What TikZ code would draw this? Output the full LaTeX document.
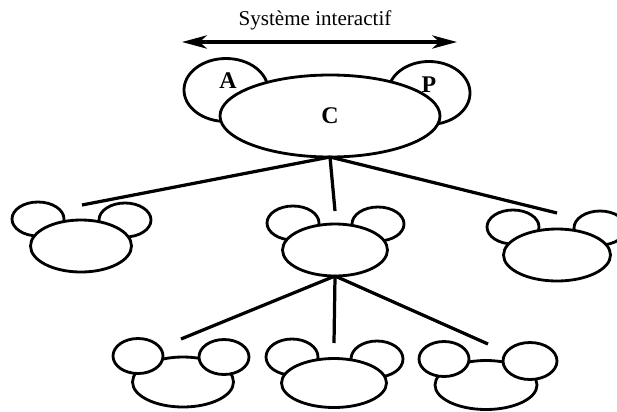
\documentclass[tikz,border=0pt]{standalone}
\usepackage{fontspec}
\setmainfont{Liberation Serif}
\usetikzlibrary{shapes.geometric, arrows.meta}

\begin{document}
\begin{tikzpicture}[
    head/.style={draw, ellipse, fill=white, line width=2pt, inner sep=0pt, outer sep=0pt,
                 minimum width=2.55cm, minimum height=1.3cm},
    ear/.style={draw, ellipse, fill=white, line width=2pt, inner sep=0pt, outer sep=0pt,
                minimum width=1.3cm, minimum height=0.85cm},
    letter/.style={font=\fontsize{17}{20}\selectfont\bfseries, anchor=base, inner sep=0pt},
    link/.style={line width=2.3pt},
    spanarrow/.style={{Stealth[length=6.2mm, width=3.3mm, inset=1.8mm]}-{Stealth[length=6.2mm, width=3.3mm, inset=1.8mm]},
                      line width=2.4pt}
]
\useasboundingbox (0,0) rectangle (15.425,-10.275);

%--------
% interactive system: agent C with its two facets A and P
%--------
\coordinate (sysL) at (4.55,-1.05);
\coordinate (sysR) at (11.425,-1.05);
\draw[spanarrow] (sysL) -- (sysR);
\node[font=\fontsize{15}{18}\selectfont, anchor=base, inner sep=0pt] (sys)
    at (7.875,-0.625) {Système interactif};

\node[ear, minimum width=2.1cm, minimum height=1.575cm] (earA) at (5.65,-2.25) {};
\node[ear, minimum width=2.05cm, minimum height=1.575cm] (earP) at (10.725,-2.325) {};
\node[head, minimum width=5.5cm, minimum height=2.05cm,
      font=\fontsize{17}{20}\selectfont\bfseries] (C) at (8.25,-2.9) {C};
\node[letter] (labA) at (5.7,-2.2) {A};
\node[letter] (labP) at (10.725,-2.3) {P};

%--------
% first level of sub-agents
%--------
\node[ear] (k1l) at (0.95,-5.475) {};
\node[ear] (k1r) at (3.125,-5.5) {};
\node[head, minimum width=2.525cm] (k1) at (2.025,-6.15) {};

\node[ear] (k2l) at (7.325,-5.575) {};
\node[ear] (k2r) at (9.45,-5.6) {};
\node[head, minimum width=2.625cm] (k2) at (8.375,-6.25) {};

\node[ear] (k3l) at (12.825,-5.675) {};
\node[ear] (k3r) at (15.0,-5.7) {};
\node[head, minimum width=2.675cm] (k3) at (13.925,-6.375) {};

% tie points above each head
\coordinate (k1top) at (2.05,-5.125);
\coordinate (k2top) at (8.375,-5.275);
\coordinate (k3top) at (13.925,-5.325);

\draw[link] (C.south) -- (k1top);
\draw[link] (C.south) -- (k2top);
\draw[link] (C.south) -- (k3top);

%--------
% second level, under the middle agent
%--------
\node[head, minimum width=2.525cm, minimum height=1.25cm] (k4) at (4.575,-9.55) {};
\node[ear, minimum width=1.25cm, minimum height=0.875cm] (k4l) at (3.45,-8.9) {};
\node[ear, minimum width=1.25cm, minimum height=0.875cm] (k4r) at (5.6,-8.925) {};

\node[ear, minimum height=0.9cm] (k5l) at (7.3,-8.925) {};
\node[ear, minimum height=0.9cm] (k5r) at (9.425,-8.975) {};
\node[head, minimum width=2.625cm, minimum height=1.225cm] (k5) at (8.35,-9.575) {};

\node[head, minimum width=2.55cm, minimum height=1.225cm] (k6) at (12.15,-9.625) {};
\node[ear, minimum width=1.25cm, minimum height=0.875cm] (k6l) at (11.1,-8.975) {};
\node[ear, minimum width=1.35cm, minimum height=0.925cm] (k6r) at (13.25,-9.025) {};

\coordinate (k4top) at (4.525,-8.475);
\coordinate (k5top) at (8.35,-8.575);
\coordinate (k6top) at (12.2,-8.6);

\draw[link] (k2.south) -- (k4top);
\draw[link] (k2.south) -- (k5top);
\draw[link] (k2.south) -- (k6top);

\end{tikzpicture}
\end{document}
